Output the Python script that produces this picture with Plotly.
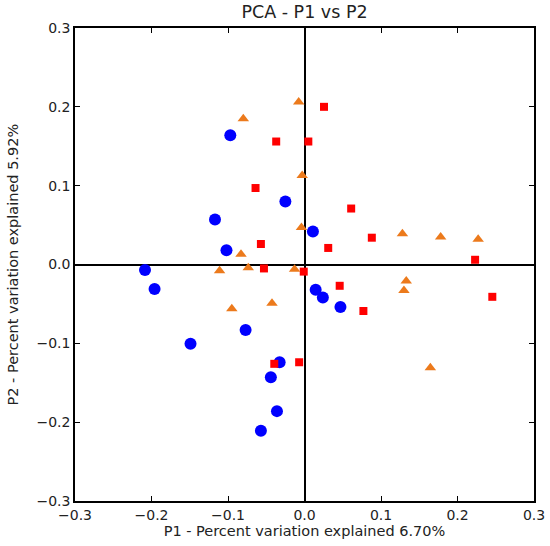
import plotly.graph_objects as go

# Blue group (circles)
blue_x = [-0.097, -0.025, -0.117, 0.011, -0.102, -0.2085, -0.196, -0.077, -0.149,
          -0.0325, -0.044, -0.036, -0.057, 0.0146, 0.024, 0.047]
blue_y = [0.164, 0.080, 0.057, 0.042, 0.018, -0.007, -0.031, -0.083, -0.1005,
          -0.124, -0.143, -0.186, -0.211, -0.032, -0.042, -0.054]

# Red group (squares)
red_x = [-0.037, 0.005, -0.064, -0.057, 0.0255, 0.061, 0.088, 0.031, 0.223,
         -0.053, -0.001, -0.0395, -0.007, 0.046, 0.077, 0.2455]
red_y = [0.156, 0.156, 0.097, 0.026, 0.200, 0.071, 0.034, 0.021, 0.006,
         -0.005, -0.009, -0.126, -0.124, -0.027, -0.059, -0.041]

# Orange group (triangles)
orange_x = [-0.0076, -0.080, -0.003, -0.004, -0.083, 0.128, 0.178, 0.227, -0.111,
            -0.0735, -0.013, -0.095, -0.0425, 0.133, 0.130, 0.1645]
orange_y = [0.206, 0.185, 0.113, 0.047, 0.013, 0.039, 0.035, 0.032, -0.008,
            -0.004, -0.006, -0.056, -0.049, -0.021, -0.033, -0.131]

tick_vals = [-0.3, -0.2, -0.1, 0.0, 0.1, 0.2, 0.3]

FONT = "DejaVu Sans"
TXT = "#222222"

fig = go.Figure()
fig.add_trace(go.Scatter(x=blue_x, y=blue_y, mode="markers",
                         marker=dict(symbol="circle", size=12, color="#0000FF", line=dict(width=0))))
fig.add_trace(go.Scatter(x=red_x, y=red_y, mode="markers",
                         marker=dict(symbol="square", size=8, color="#FF0000", line=dict(width=0))))
fig.add_trace(go.Scatter(x=orange_x, y=orange_y, mode="markers",
                         marker=dict(symbol="triangle-up", size=10, color="#EC7A1C", line=dict(width=0))))

axis_common = dict(
    range=[-0.3, 0.3], tickvals=tick_vals, tickformat=".1f",
    showgrid=False, zeroline=True, zerolinecolor="black", zerolinewidth=1.5,
    showline=True, linecolor="black", linewidth=1.5, mirror="ticks",
    ticks="inside", ticklen=5, tickwidth=1.2, tickcolor="black",
    tickfont=dict(family=FONT, size=14, color=TXT),
    automargin=False,
)

fig.update_layout(
    width=550, height=546,
    margin=dict(l=75, r=16, t=28, b=45),
    paper_bgcolor="white", plot_bgcolor="white",
    showlegend=False,
    title=dict(text="PCA - P1 vs P2", x=0.5, xref="paper", xanchor="center",
               y=1 - 12 / 546, yref="container", yanchor="middle",
               font=dict(family=FONT, size=17.5, color=TXT)),
    xaxis=dict(**axis_common,
               title=dict(text="P1 - Percent variation explained 6.70%", standoff=2,
                          font=dict(family=FONT, size=14.5, color=TXT))),
    yaxis=dict(**axis_common),
    annotations=[dict(text="P2 - Percent variation explained 5.92%",
                      xref="paper", yref="paper", x=0, y=0.5,
                      xanchor="center", yanchor="middle", xshift=-63,
                      textangle=-90, showarrow=False,
                      font=dict(family=FONT, size=14.5, color=TXT))],
)

fig.write_html("out.html", config={"displayModeBar": False},
               post_script="document.body.style.margin='0';")
